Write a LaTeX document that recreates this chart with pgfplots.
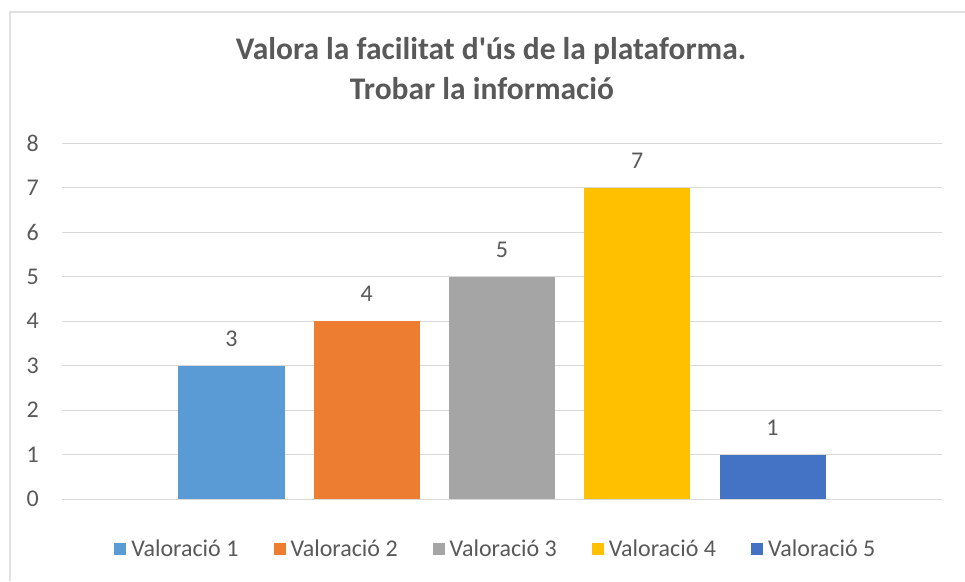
\documentclass[border=0pt]{standalone}
\usepackage{fontspec}
\setmainfont{Carlito}[Ligatures=TeXOff]
\usepackage{pgfplots}
\pgfplotsset{compat=1.18}
\definecolor{s1}{HTML}{5B9BD5}
\definecolor{s2}{HTML}{ED7D31}
\definecolor{s3}{HTML}{A5A5A5}
\definecolor{s4}{HTML}{FFC000}
\definecolor{s5}{HTML}{4472C4}
\definecolor{txt}{HTML}{595959}
\definecolor{grid}{HTML}{D9D9D9}
\begin{document}
\begin{tikzpicture}
\begin{axis}[
  scale only axis, width=880pt, height=356pt,
  xmin=-0.253, xmax=6.253, ymin=0, ymax=8,
  ytick={0,1,...,8}, xtick=\empty,
  ymajorgrids, grid style={color=grid, line width=1pt},
  axis line style={draw=none},
  major tick length=0pt,
  yticklabel style={inner sep=0pt, xshift=-23pt, text=txt, font=\fontsize{24}{28}\selectfont},
  /pgf/number format/assume math mode=true,
  ybar, bar shift=0pt, bar width=0.784,
  nodes near coords,
  every node near coord/.append style={inner sep=0pt, yshift=19pt, text=txt, font=\fontsize{24}{28}\selectfont},
  legend columns=5,
  legend style={draw=none, at={(0.493,-0.141)}, anchor=center, font=\fontsize{24}{28}\selectfont, text=txt,
    /tikz/every even column/.append style={column sep=33pt},
    /tikz/every odd column/.append style={column sep=3pt}},
  legend image code/.code={\fill[#1] (0pt,-6pt) rectangle (12pt,6pt);},
  clip=false,
]
\coordinate (O) at (rel axis cs:0,0);
\draw[color=grid, line width=1pt] (axis cs:-0.253,0) -- (axis cs:6.253,0);
\addplot[fill=s1, draw=none] coordinates {(1,3)};
\addplot[fill=s2, draw=none] coordinates {(2,4)};
\addplot[fill=s3, draw=none] coordinates {(3,5)};
\addplot[fill=s4, draw=none] coordinates {(4,7)};
\addplot[fill=s5, draw=none] coordinates {(5,1)};
\legend{Valoració 1, Valoració 2, Valoració 3, Valoració 4, Valoració 5}
\end{axis}
\begin{scope}[shift={(O)}, x=1pt, y=1pt]
\pgfresetboundingbox
\path[use as bounding box] (-62,-82) rectangle (903,499);
\draw[line width=2pt, color=grid!80] (-52,-82) -- (-52,487) -- (903,487);
\node[anchor=base, font=\fontsize{31.5}{36}\selectfont\bfseries, text=txt, inner sep=0pt] at (429,439) {Valora la facilitat d'ús de la plataforma.};
\node[anchor=base, font=\fontsize{31.5}{36}\selectfont\bfseries, text=txt, inner sep=0pt] at (420,399) {Trobar la informació};
\end{scope}
\end{tikzpicture}
\end{document}
